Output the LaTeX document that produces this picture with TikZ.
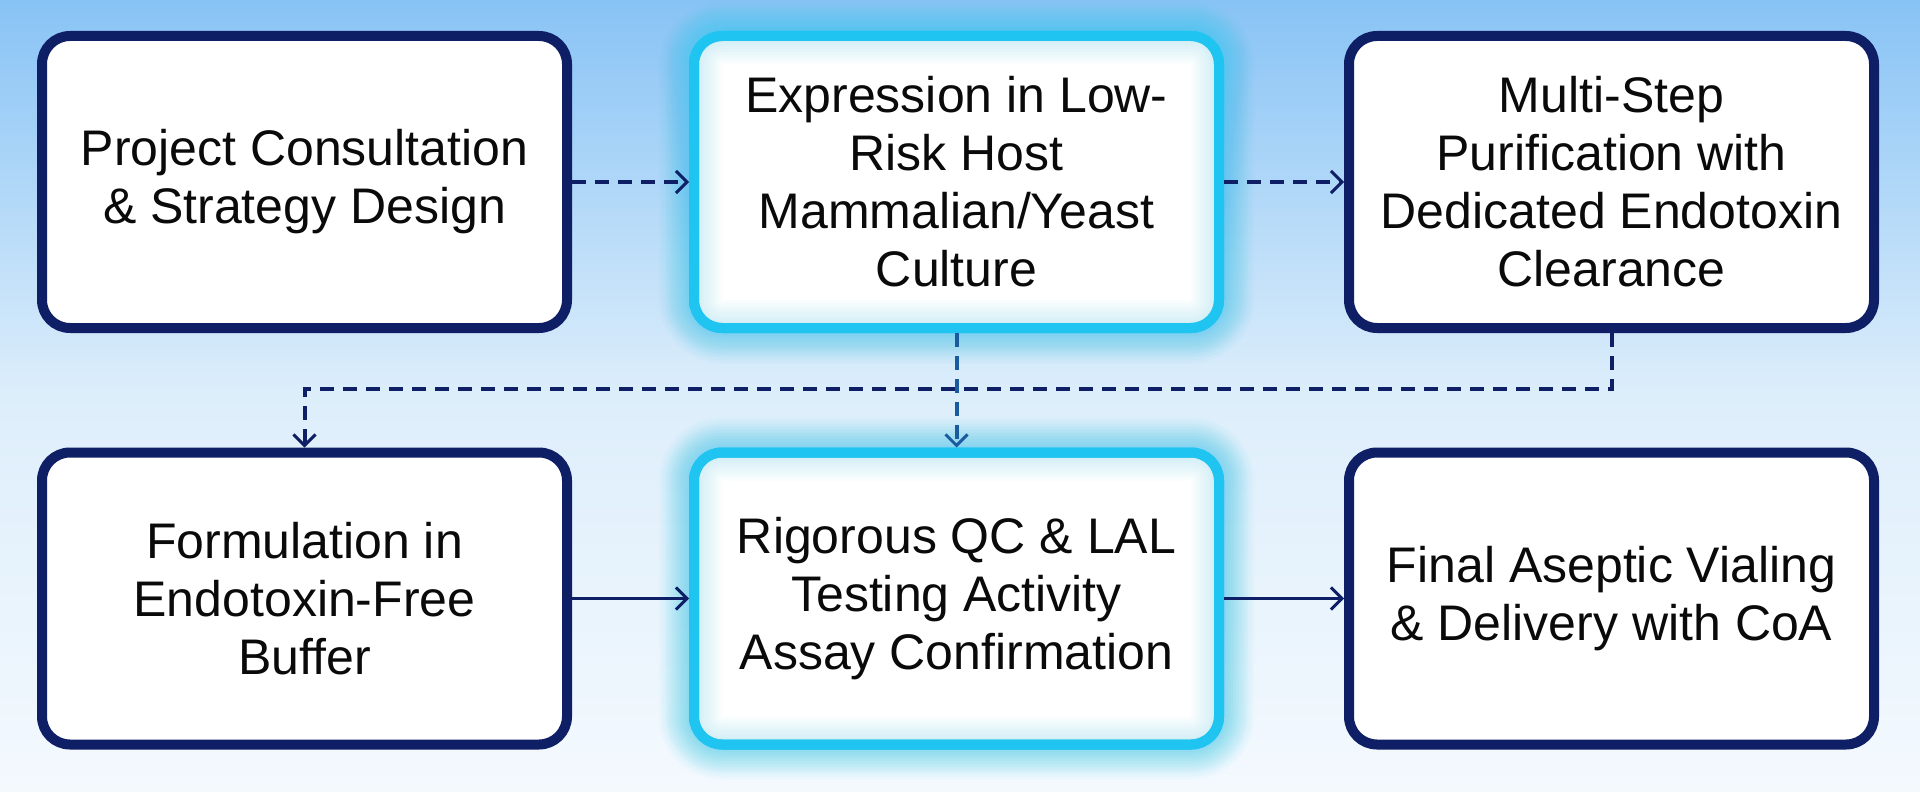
\documentclass[tikz,border=0pt]{standalone}
\usepackage{fontspec}
\setmainfont{Liberation Sans}
\usetikzlibrary{arrows.meta,calc}
\definecolor{navy}{HTML}{0E1F66}
\definecolor{cyanb}{HTML}{20C4F0}
\definecolor{bgtop}{HTML}{88C3F5}
\definecolor{bgmid}{HTML}{DDEEFB}
\definecolor{bgbot}{HTML}{F4F9FE}
\definecolor{arrblue}{HTML}{1A5A9E}
\definecolor{txt}{HTML}{0A0A0A}
\begin{document}
\begin{tikzpicture}[x=1pt,y=-1pt,
  box/.style={draw=navy, line width=10pt, fill=white, rounded corners=28pt,
    minimum width=525pt, minimum height=292pt, align=center, text=txt,
    font=\fontsize{50}{58}\selectfont, inner sep=0pt},
  hbox/.style={box, draw=cyanb},
  dflow/.style={draw=navy, line width=4pt, dash pattern=on 14pt off 9pt,
    -{Straight Barb[length=11pt,width=22pt,line width=3pt]}},
  sflow/.style={draw=navy, line width=3.5pt,
    -{Straight Barb[length=11pt,width=22pt,line width=3pt]}},
  glowline/.style={draw=cyanb, rounded corners=28pt}]
\shade[top color=bgtop, bottom color=bgbot, middle color=bgmid] (0,0) rectangle (1920,792);
\useasboundingbox (0,0) rectangle (1920,792);

% outer glow for highlighted boxes
\foreach \cy in {182,598.5}{
  \foreach \w in {70,64,...,16}{
    \draw[glowline, line width=\w pt, opacity=0.035] (694,\cy-146) rectangle (1219,\cy+146);
  }
}

\node[box]  (b1) at (304.5,182) {Project Consultation\\\& Strategy Design};
\node[hbox] (b2) at (956.5,182) {Expression in Low-\\Risk Host\\Mammalian/Yeast\\Culture};
\node[box]  (b3) at (1611.5,182) {Multi-Step\\Purification with\\Dedicated Endotoxin\\Clearance};
\node[box]  (b4) at (304.5,598.5) {Formulation in\\Endotoxin-Free\\Buffer};
\node[hbox] (b5) at (956.5,598.5) {Rigorous QC \& LAL\\Testing Activity\\Assay Confirmation};
\node[box]  (b6) at (1611.5,598.5) {Final Aseptic Vialing\\\& Delivery with CoA};

% inner glow
\foreach \n in {b2,b5}{
  \foreach \w in {56,50,...,14}{
    \draw[glowline, line width=\w pt, opacity=0.025] ($(\n.north west)+(5,5)$) rectangle ($(\n.south east)+(-5,-5)$);
  }
  \draw[glowline, line width=10pt] ($(\n.north west)+(5,5)$) rectangle ($(\n.south east)+(-5,-5)$);
}

\draw[dflow] (b1.east) -- (b2.west);
\draw[dflow] (b2.east) -- (b3.west);
\draw[dflow] (b3.south) -- ++(0,56) -| (b4.north);
\draw[dflow, draw=arrblue] (b2.south) -- (b5.north);
\draw[sflow] (b4.east) -- (b5.west);
\draw[sflow] (b5.east) -- (b6.west);
\end{tikzpicture}
\end{document}
